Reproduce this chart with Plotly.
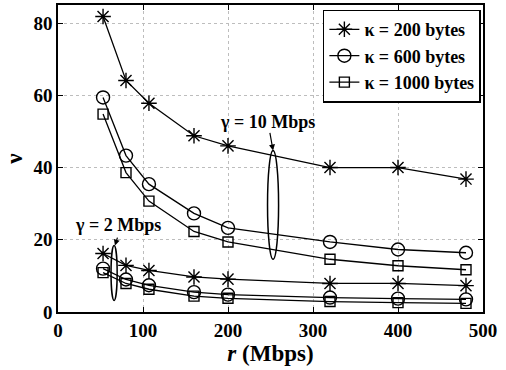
import plotly.graph_objects as go

# ---- data ----
r_mbps = [53, 80, 107, 160, 200, 320, 400, 480]
g10_k200 = [81.8, 64.1, 57.8, 48.8, 46.0, 40.0, 40.0, 36.8]
g10_k600 = [59.4, 43.3, 35.4, 27.3, 23.3, 19.4, 17.3, 16.4]
g10_k1000 = [54.8, 38.6, 30.7, 22.3, 19.4, 14.6, 12.8, 11.7]
g2_k200 = [16.2, 12.9, 11.5, 9.7, 9.1, 7.9, 7.9, 7.3]
g2_k600 = [12.0, 9.0, 7.4, 5.5, 4.8, 4.0, 3.7, 3.5]
g2_k1000 = [10.9, 7.9, 6.3, 4.4, 3.8, 2.9, 2.6, 2.4]
legend_names = ["κ = 200 bytes", "κ = 600 bytes", "κ = 1000 bytes"]
x_ticks = [0, 100, 200, 300, 400, 500]
y_ticks = [0, 20, 40, 60, 80]

FONT = "Liberation Serif"
BLACK = "#000000"
symbols = ["asterisk-open", "circle-open", "square-open"]
sizes = [13, 13, 10]

fig = go.Figure()
groups = [(g10_k200, g2_k200), (g10_k600, g2_k600), (g10_k1000, g2_k1000)]
for i, (a, b) in enumerate(groups):
    for j, ys in enumerate((a, b)):
        fig.add_trace(go.Scatter(
            x=r_mbps, y=ys, mode="lines+markers",
            name=legend_names[i], legendgroup=legend_names[i],
            showlegend=(j == 0),
            line=dict(color=BLACK, width=1.3),
            marker=dict(symbol=symbols[i], size=sizes[i], color=BLACK,
                        line=dict(color=BLACK, width=1.4)),
        ))

# ellipses marking the gamma groups
ell10 = dict(cx=253, rx=6.5, y0=14.6, y1=44.7)
ell2 = dict(cx=66, rx=3.6, y0=3.2, y1=18.4)
for e in (ell10, ell2):
    fig.add_shape(type="circle", xref="x", yref="y",
                  x0=e["cx"] - e["rx"], x1=e["cx"] + e["rx"],
                  y0=e["y0"], y1=e["y1"],
                  line=dict(color=BLACK, width=1.5))

fig.add_annotation(x=253, y=44.7, ax=249, ay=50.0, axref="x", ayref="y",
                   xref="x", yref="y", text="", showarrow=True,
                   arrowhead=2, arrowsize=1, arrowwidth=1.2, arrowcolor=BLACK)
fig.add_annotation(x=247, y=52.5, xref="x", yref="y",
                   text="<b>γ = 10 Mbps</b>", showarrow=False,
                   font=dict(family=FONT, size=18, color=BLACK))
fig.add_annotation(x=67, y=18.4, ax=70.5, ay=21.0, axref="x", ayref="y",
                   xref="x", yref="y", text="", showarrow=True,
                   arrowhead=2, arrowsize=1, arrowwidth=1.2, arrowcolor=BLACK)
fig.add_annotation(x=71, y=24.0, xref="x", yref="y",
                   text="<b>γ = 2 Mbps</b>", showarrow=False,
                   font=dict(family=FONT, size=18, color=BLACK))

axis_common = dict(
    showline=True, linecolor=BLACK, linewidth=1.5, mirror="ticks",
    ticks="inside", ticklen=5, tickcolor=BLACK,
    showgrid=True, gridcolor="#bdbdbd", griddash="dot", gridwidth=1,
    zeroline=False, automargin=False,
    tickfont=dict(family=FONT, size=19, color=BLACK, weight="bold"),
)
fig.update_xaxes(range=[0, 500], tickvals=x_ticks,
                 title=dict(text="<i>r</i> (Mbps)", standoff=2,
                            font=dict(family=FONT, size=23, color=BLACK, weight="bold")),
                 ticklabelstandoff=0, **axis_common)
fig.update_yaxes(range=[0, 85], tickvals=y_ticks,
                 title=dict(text="ν", standoff=4,
                            font=dict(family=FONT, size=23, color=BLACK, weight="bold")),
                 ticklabelstandoff=0, **axis_common)

fig.update_layout(
    width=506, height=370,
    margin=dict(l=58, r=23, t=5, b=58),
    paper_bgcolor="white", plot_bgcolor="white",
    font=dict(family=FONT, color=BLACK),
    showlegend=True,
    legend=dict(x=0.995, y=0.985, xanchor="right", yanchor="top",
                bgcolor="white", bordercolor=BLACK, borderwidth=1.5,
                font=dict(family=FONT, size=18, color=BLACK, weight="bold"),
                itemwidth=30, tracegroupgap=0),
)

fig.write_html("out.html", config={"displayModeBar": False},
               post_script="document.body.style.margin='0px';document.body.style.padding='0px';")
